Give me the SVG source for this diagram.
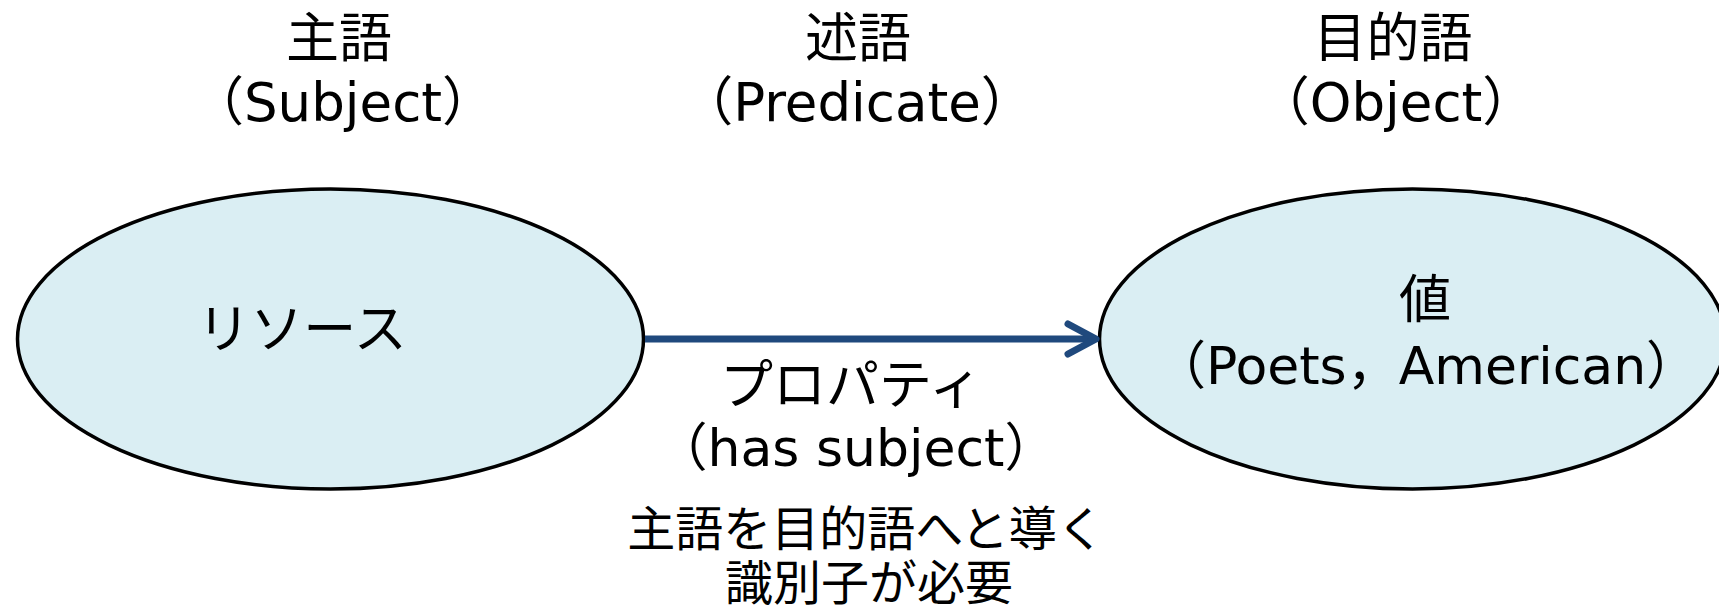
<svg xmlns="http://www.w3.org/2000/svg" width="1719" height="609" viewBox="0 0 1719 609">
<style>
text{font-family:"DejaVu Sans","Noto Sans CJK JP",sans-serif;font-size:52px;fill:#000;text-anchor:middle}
.head{font-size:53px}
.small{font-size:48px}
.node{fill:#DAEEF3;stroke:#000;stroke-width:3.5}
</style>
<defs>
<marker id="arr" markerUnits="userSpaceOnUse" viewBox="0 0 40 40" refX="34" refY="20" markerWidth="40" markerHeight="40" orient="auto">
<path d="M6 5 L34 20 L6 35" fill="none" stroke="#1F497D" stroke-width="7" stroke-linecap="round" stroke-linejoin="round"/>
</marker>
</defs>
<g id="header-subject"><text class="head" x="339" y="57">主語</text><text class="head" x="343" y="121">（Subject）</text></g>
<g id="header-predicate"><text class="head" x="858" y="57">述語</text><text class="head" x="857" y="121">（Predicate）</text></g>
<g id="header-object"><text class="head" x="1393" y="57">目的語</text><text class="head" x="1396" y="121">（Object）</text></g>
<g id="node-resource"><ellipse class="node" cx="330.5" cy="339" rx="313" ry="150"/><text x="302" y="348" style="font-size:53px">リソース</text></g>
<g id="node-value"><ellipse class="node" cx="1412.5" cy="339" rx="313" ry="150"/><text x="1425" y="318">値</text><text x="1426" y="384">（Poets，American）</text></g>
<g id="connectors">
<line x1="645" y1="339" x2="1096" y2="339" stroke="#1F497D" stroke-width="7" marker-end="url(#arr)"/>
<text x="851" y="404" style="font-size:53px">プロパティ</text>
<text x="856" y="466">（has subject）</text>
<text class="small" x="866" y="546">主語を目的語へと導く</text>
<text class="small" x="869" y="600">識別子が必要</text>
</g>
</svg>
